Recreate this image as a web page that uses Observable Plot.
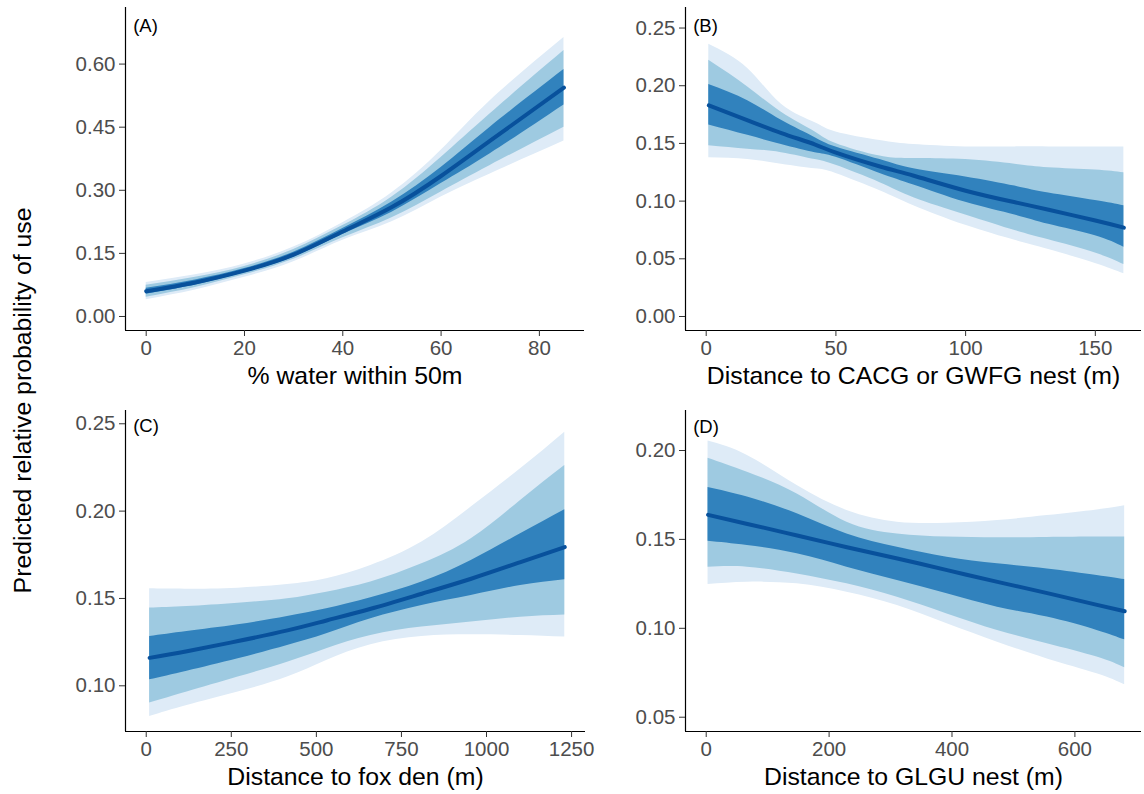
<!DOCTYPE html>
<html>
<head>
<meta charset="utf-8">
<script src="https://cdn.jsdelivr.net/npm/d3@7"></script>
<script src="https://cdn.jsdelivr.net/npm/@observablehq/plot@0.6"></script>
<style>
html, body { margin: 0; padding: 0; background: #fff; }
#chart { position: relative; width: 1144px; height: 794px; overflow: hidden; font-family: "Liberation Sans", Arial, sans-serif; background: #fff; }
#chart svg { position: absolute; }
#chart svg g[aria-label="x-axis tick label"] text,
#chart svg g[aria-label="y-axis tick label"] text { font-size: 20.5px; font-family: "Liberation Sans", Arial, sans-serif; }
#ytitle { position: absolute; width: 500px; height: 24.8px; text-align: center; font-size: 24.8px; line-height: 1; white-space: nowrap; color: #000; transform: rotate(-90deg); left: -227.1px; top: 387.6px; }
</style>
</head>
<body>
<div id="chart"><div id="ytitle">Predicted relative probability of use</div></div>
<script>
// ---------- Data ----------
// Panel A: % water within 50m
const aX    = [0, 10, 20, 30, 40, 50, 60, 70, 85];
const aLo95 = [0.040, 0.063, 0.093, 0.130, 0.181, 0.225, 0.284, 0.339, 0.417];
const aLo80 = [0.046, 0.069, 0.099, 0.136, 0.187, 0.235, 0.296, 0.359, 0.450];
const aLo50 = [0.053, 0.075, 0.104, 0.141, 0.195, 0.248, 0.316, 0.387, 0.503];
const aFit  = [0.060, 0.081, 0.109, 0.147, 0.202, 0.260, 0.334, 0.418, 0.544];
const aHi50 = [0.067, 0.087, 0.114, 0.153, 0.209, 0.272, 0.354, 0.450, 0.587];
const aHi80 = [0.074, 0.093, 0.119, 0.159, 0.216, 0.284, 0.378, 0.482, 0.632];
const aHi95 = [0.081, 0.099, 0.125, 0.165, 0.223, 0.294, 0.395, 0.513, 0.663];

// Panel B: Distance to CACG or GWFG nest (m)
const bX    = [1, 16, 29, 42, 50, 67, 80, 100, 119, 132, 150, 161];
const bLo95 = [0.1375, 0.136, 0.132, 0.128, 0.124, 0.109, 0.096, 0.079, 0.066, 0.058, 0.046, 0.037];
const bLo80 = [0.148, 0.145, 0.142, 0.136, 0.131, 0.116, 0.103, 0.088, 0.0745, 0.0665, 0.055, 0.045];
const bLo50 = [0.166, 0.157, 0.149, 0.142, 0.138, 0.124, 0.114, 0.099, 0.088, 0.080, 0.070, 0.060];
const bFit  = [0.183, 0.170, 0.159, 0.149, 0.142, 0.130, 0.122, 0.109, 0.099, 0.0925, 0.0832, 0.077];
const bHi50 = [0.201, 0.187, 0.170, 0.155, 0.147, 0.136, 0.128, 0.121, 0.113, 0.107, 0.1005, 0.096];
const bHi80 = [0.222, 0.199, 0.177, 0.160, 0.150, 0.139, 0.137, 0.136, 0.132, 0.129, 0.127, 0.1245];
const bHi95 = [0.236, 0.215, 0.184, 0.168, 0.160, 0.1525, 0.149, 0.147, 0.147, 0.147, 0.147, 0.147];

// Panel C: Distance to fox den (m)
const cX    = [10, 120, 270, 415, 530, 660, 810, 955, 1100, 1230];
const cLo95 = [0.0824, 0.0887, 0.0964, 0.1050, 0.1145, 0.1235, 0.1282, 0.1292, 0.1288, 0.1279];
const cLo80 = [0.0901, 0.0964, 0.1050, 0.1135, 0.1212, 0.1288, 0.1336, 0.1365, 0.1393, 0.1406];
const cLo50 = [0.1034, 0.1084, 0.1155, 0.1231, 0.1298, 0.1384, 0.1460, 0.1517, 0.1574, 0.1607];
const cFit  = [0.1160, 0.1198, 0.1256, 0.1317, 0.1374, 0.1441, 0.1527, 0.1613, 0.1708, 0.1794];
const cHi50 = [0.1282, 0.1311, 0.1349, 0.1397, 0.1441, 0.1504, 0.1594, 0.1718, 0.1870, 0.2008];
const cHi80 = [0.1445, 0.1454, 0.1473, 0.1498, 0.1536, 0.1594, 0.1698, 0.1842, 0.2061, 0.2261];
const cHi95 = [0.1555, 0.1553, 0.1559, 0.1580, 0.1613, 0.1689, 0.1823, 0.2023, 0.2242, 0.2452];

// Panel D: Distance to GLGU nest (m)
const dX    = [3, 67, 148, 229, 311, 392, 474, 555, 636, 681];
const dLo95 = [0.1246, 0.1259, 0.1250, 0.1203, 0.1128, 0.1025, 0.0922, 0.0828, 0.0744, 0.0682];
const dLo80 = [0.1344, 0.1344, 0.1306, 0.1250, 0.1175, 0.1081, 0.0988, 0.0913, 0.0838, 0.0778];
const dLo50 = [0.1490, 0.1466, 0.1419, 0.1344, 0.1269, 0.1194, 0.1119, 0.1063, 0.0988, 0.0935];
const dFit  = [0.1638, 0.1587, 0.1522, 0.1456, 0.1393, 0.1327, 0.1261, 0.1198, 0.1132, 0.1096];
const dHi50 = [0.1792, 0.1738, 0.1644, 0.1531, 0.1456, 0.1400, 0.1363, 0.1334, 0.1297, 0.1274];
const dHi80 = [0.1957, 0.1878, 0.1756, 0.1597, 0.1531, 0.1513, 0.1509, 0.1511, 0.1513, 0.1513];
const dHi95 = [0.2053, 0.1972, 0.1803, 0.1663, 0.1597, 0.1591, 0.1606, 0.1634, 0.1666, 0.1689];

// Tick values and labels
const aXTicks = [0, 20, 40, 60, 80];
const aYTicks = [0, 0.15, 0.30, 0.45, 0.60];
const bXTicks = [0, 50, 100, 150];
const bYTicks = [0, 0.05, 0.10, 0.15, 0.20, 0.25];
const cXTicks = [0, 250, 500, 750, 1000, 1250];
const cYTicks = [0.10, 0.15, 0.20, 0.25];
const dXTicks = [0, 200, 400, 600];
const dYTicks = [0.05, 0.10, 0.15, 0.20];

const tags = ["(A)", "(B)", "(C)", "(D)"];
const xTitles = ["% water within 50m", "Distance to CACG or GWFG nest (m)", "Distance to fox den (m)", "Distance to GLGU nest (m)"];

// ---------- Styling ----------
const colLight = "#DEEBF7", colMid = "#9ECAE1", colDark = "#3182BD", colLine = "#08519C";
const FONT = '"Liberation Sans", Arial, sans-serif';

function panel(cfg) {
  const {x, lo95, lo80, lo50, fit, hi50, hi80, hi95, xDomain, yDomain, xTicks, yTicks,
         tag, xTitle, left, top, width, height, mLeft, mRight, mTop, mBottom, tagDy} = cfg;
  const curve = "natural";
  const svg = Plot.plot({
    width, height,
    marginLeft: mLeft, marginRight: mRight, marginTop: mTop, marginBottom: mBottom,
    style: {fontFamily: FONT, fontSize: "20.5px", background: "white", overflow: "visible"},
    x: {domain: xDomain},
    y: {domain: yDomain},
    marks: [
      Plot.areaY(x, {x: x, y1: lo95, y2: hi95, fill: colLight, curve}),
      Plot.areaY(x, {x: x, y1: lo80, y2: hi80, fill: colMid, curve}),
      Plot.areaY(x, {x: x, y1: lo50, y2: hi50, fill: colDark, curve}),
      Plot.line(x, {x: x, y: fit, stroke: colLine, strokeWidth: 4, curve}),
      Plot.ruleX([xDomain[0]], {stroke: "black", strokeWidth: 1.2}),
      Plot.ruleY([yDomain[0]], {stroke: "black", strokeWidth: 1.2}),
      Plot.axisY({ticks: yTicks, tickFormat: d3.format(".2f"), tickSize: 6, tickPadding: 4,
                  fontSize: 20.5, fill: "#4D4D4D", stroke: "#333333", label: null}),
      Plot.axisX({ticks: xTicks, tickFormat: d3.format("d"), tickSize: 6, tickPadding: 4,
                  fontSize: 20.5, fill: "#4D4D4D", stroke: "#333333", label: null}),
      Plot.text([tag], {text: d => d, frameAnchor: "top-left", lineAnchor: "middle", textAnchor: "start",
                        dx: 7.7, dy: tagDy, fontSize: 18.5, fill: "black"}),
      Plot.text([xTitle], {text: d => d, frameAnchor: "bottom", lineAnchor: "middle", dy: 45.6,
                           fontSize: 24.8, fill: "black"})
    ]
  });
  svg.style.left = left + "px";
  svg.style.top = top + "px";
  document.getElementById("chart").appendChild(svg);
}

panel({x: aX, lo95: aLo95, lo80: aLo80, lo50: aLo50, fit: aFit, hi50: aHi50, hi80: aHi80, hi95: aHi95,
  xDomain: [-4.21, 89.18], yDomain: [-0.0333, 0.7345], xTicks: aXTicks, yTicks: aYTicks,
  tag: tags[0], xTitle: xTitles[0], left: 40, top: 0, width: 560, height: 395,
  mLeft: 85, mRight: 16, mTop: 7, mBottom: 65, tagDy: 18.8});

panel({x: bX, lo95: bLo95, lo80: bLo80, lo50: bLo50, fit: bFit, hi50: bHi50, hi80: bHi80, hi95: bHi95,
  xDomain: [-7.98, 167.8], yDomain: [-0.01213, 0.2678], xTicks: bXTicks, yTicks: bYTicks,
  tag: tags[1], xTitle: xTitles[1], left: 600, top: 0, width: 544, height: 395,
  mLeft: 85, mRight: 3, mTop: 7, mBottom: 65, tagDy: 18.8});

panel({x: cX, lo95: cLo95, lo80: cLo80, lo50: cLo50, fit: cFit, hi50: cHi50, hi80: cHi80, hi95: cHi95,
  xDomain: [-60.9, 1290.9], yDomain: [0.07384, 0.2576], xTicks: cXTicks, yTicks: cYTicks,
  tag: tags[2], xTitle: xTitles[2], left: 40, top: 395, width: 560, height: 399,
  mLeft: 85, mRight: 15, mTop: 15, mBottom: 63, tagDy: 15.8});

panel({x: dX, lo95: dLo95, lo80: dLo80, lo50: dLo50, fit: dFit, hi50: dHi50, hi80: dHi80, hi95: dHi95,
  xDomain: [-33.7, 708.4], yDomain: [0.04196, 0.2225], xTicks: dXTicks, yTicks: dYTicks,
  tag: tags[3], xTitle: xTitles[3], left: 600, top: 395, width: 544, height: 399,
  mLeft: 85, mRight: 3, mTop: 15, mBottom: 63, tagDy: 16.6});
</script>
</body>
</html>
